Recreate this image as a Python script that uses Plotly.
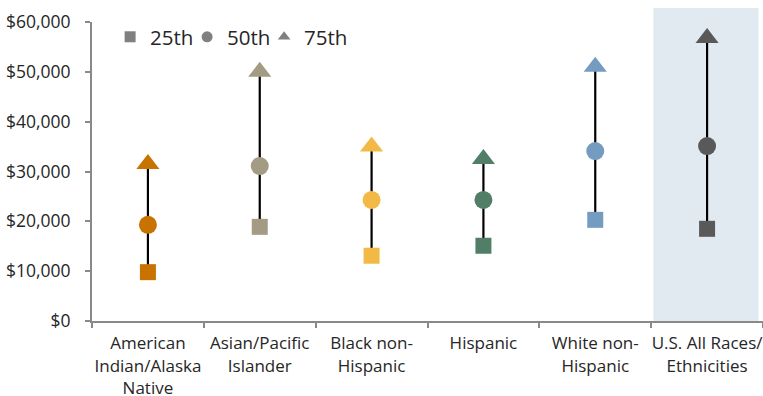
import plotly.graph_objects as go

categories = ["American<br>Indian/Alaska<br>Native", "Asian/Pacific<br>Islander",
              "Black non-<br>Hispanic", "Hispanic", "White non-<br>Hispanic",
              "U.S. All Races/<br>Ethnicities"]
p25 = [9800, 18900, 13100, 15100, 20300, 18500]
p50 = [19300, 31100, 24300, 24300, 34100, 35100]
p75 = [31500, 50000, 35000, 32500, 51000, 56800]
colors = ["#C87200", "#A39B83", "#F2B947", "#517E66", "#749BC0", "#595959"]
series_names = ["25th", "50th", "75th"]
y_ticks = [0, 10000, 20000, 30000, 40000, 50000, 60000]
y_tick_text = ["$0", "$10,000", "$20,000", "$30,000", "$40,000", "$50,000", "$60,000"]

FONT = "Open Sans"
fig = go.Figure()

# highlight band behind the last category
fig.add_shape(type="rect", xref="x", yref="paper", x0=4.52, x1=5.46, y0=0, y1=1.047,
              fillcolor="#E1E9F1", line_width=0, layer="below")

# range lines
lx, ly = [], []
for c, a, b in zip(categories, p25, p75):
    lx += [c, c, None]
    ly += [a, b, None]
fig.add_trace(go.Scatter(x=lx, y=ly, mode="lines", line=dict(color="#000000", width=2.2),
                         showlegend=False, hoverinfo="skip"))

fig.add_trace(go.Scatter(x=categories, y=p25, mode="markers", showlegend=False,
                         marker=dict(symbol="square", size=16, color=colors, line_width=0)))
fig.add_trace(go.Scatter(x=categories, y=p50, mode="markers", showlegend=False,
                         marker=dict(symbol="circle", size=18, color=colors, line_width=0)))
fig.add_trace(go.Scatter(x=categories, y=p75, mode="markers", showlegend=False,
                         marker=dict(symbol="triangle-up", size=20, color=colors,
                                     line_width=0)))

# legend entries (gray)
for name, sym in zip(series_names, ["square", "circle", "triangle-up"]):
    fig.add_trace(go.Scatter(x=[None], y=[None], mode="markers", name=name,
                             marker=dict(symbol=sym, size=11, color="#808080")))
# invisible spacer entry so the last legend label is not clipped
fig.add_trace(go.Scatter(x=[None], y=[None], mode="markers", name="", hoverinfo="skip",
                         marker=dict(size=1, color="rgba(0,0,0,0)")))

fig.update_layout(
    width=763, height=396,
    margin=dict(l=92, r=0, t=22, b=75, autoexpand=False),
    plot_bgcolor="rgba(0,0,0,0)", paper_bgcolor="white",
    font=dict(family=FONT, size=17, color="#262626"),
    showlegend=True,
    legend=dict(orientation="h", x=0.027, xanchor="left", y=0.95, yanchor="middle",
                font=dict(size=20.5, color="#262626"), bgcolor="rgba(0,0,0,0)",
                entrywidth=32, entrywidthmode="pixels", traceorder="normal"),
)
fig.update_xaxes(type="category", categoryorder="array", categoryarray=categories,
                 range=[-0.5, 5.5], showline=True, linecolor="#898989", linewidth=2,
                 ticks="outside", tickson="boundaries", ticklen=5, tickcolor="#898989",
                 tickwidth=1.5, showgrid=False, zeroline=False, tickfont=dict(size=17),
                 tickangle=0, automargin=False, ticklabelstandoff=6)
fig.update_yaxes(range=[0, 60000], tickvals=y_ticks, ticktext=y_tick_text,
                 showline=True, linecolor="#898989", linewidth=2, ticks="outside",
                 ticklen=5, tickcolor="#898989", tickwidth=1.5, showgrid=False,
                 zeroline=False, tickfont=dict(size=17.5), automargin=False,
                 ticklabelstandoff=11)

fig.write_html("out.html")
